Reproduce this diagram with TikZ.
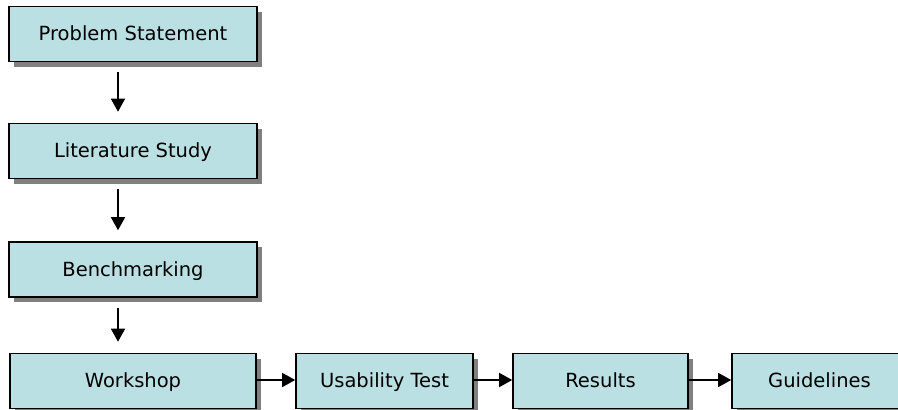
\documentclass[tikz,border=0pt]{standalone}
\usepackage{fontspec}
\setmainfont{DejaVu Sans}
\usetikzlibrary{shadows,arrows.meta}

\definecolor{boxfill}{RGB}{187,224,227}
\definecolor{boxshadow}{RGB}{128,128,128}

\begin{document}
\begin{tikzpicture}[
    x=1pt, y=-1pt,
    stepbox/.style={draw=black, line width=1.6pt, fill=boxfill, rectangle,
        minimum height=55pt, inner sep=0pt, font=\fontsize{19.5}{22}\selectfont,
        text height=16pt, text depth=3pt,
        drop shadow={shadow xshift=5pt, shadow yshift=-5pt, fill=boxshadow, opacity=1}}, % Style for the boxes
    flow/.style={line width=1.5pt, -{Triangle[length=13pt,width=14pt]}} % Style for the arrows
]
% Fix the page to the size of the picture
\useasboundingbox (0,0) rectangle (898,410);
\clip (0,0) rectangle (898,410);

% Centres of the boxes
\coordinate (c1) at (133, 34);
\coordinate (c2) at (133, 151);
\coordinate (c3) at (133, 269.5);
\coordinate (c4) at (133, 381);
\coordinate (c5) at (384.5, 381);
\coordinate (c6) at (600.5, 381);
\coordinate (c7) at (819.5, 381);

% The column of steps
\node[stepbox, minimum width=248pt] (problem) at (c1) {Problem Statement};
\node[stepbox, minimum width=248pt] (literature) at (c2) {Literature Study};
\node[stepbox, minimum width=248pt] (bench) at (c3) {Benchmarking};

% The row of steps
\node[stepbox, minimum width=246pt] (workshop) at (c4) {Workshop};
\node[stepbox, minimum width=177pt] (usability) at (c5) {Usability Test};
\node[stepbox, minimum width=175pt] (results) at (c6) {Results};
\node[stepbox, minimum width=175pt] (guide) at (c7) {Guidelines};

% Arrows down the column (a bit left of the middle)
\draw[flow, shorten <=10pt, shorten >=11pt] ([xshift=-15pt]problem.south) -- ([xshift=-15pt]literature.north);
\draw[flow, shorten <=10pt, shorten >=11pt] ([xshift=-15pt]literature.south) -- ([xshift=-15pt]bench.north);
\draw[flow, shorten <=10pt, shorten >=11pt] ([xshift=-15pt]bench.south) -- ([xshift=-15pt]workshop.north);

% Arrows along the row
\draw[flow] ([yshift=1pt]workshop.east) -- ([yshift=1pt]usability.west);
\draw[flow] ([yshift=1pt]usability.east) -- ([yshift=1pt]results.west);
\draw[flow] ([yshift=1pt]results.east) -- ([yshift=1pt]guide.west);

\end{tikzpicture}
\end{document}
